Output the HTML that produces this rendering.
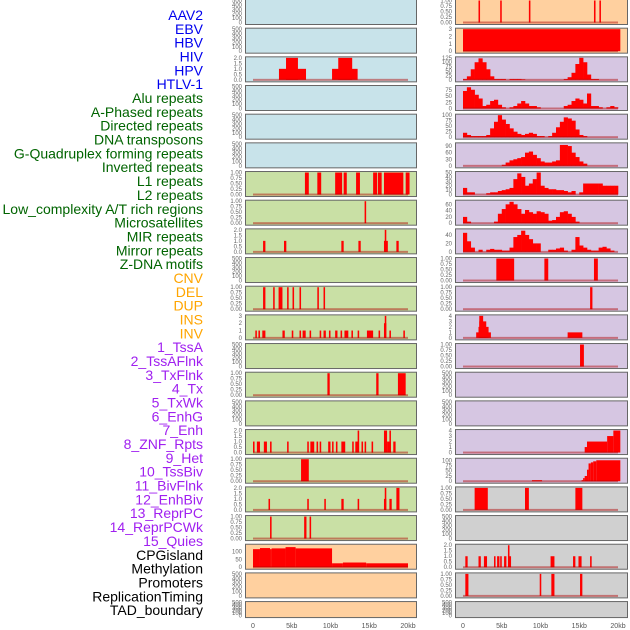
<!DOCTYPE html>
<html><head><meta charset="utf-8">
<style>
body{margin:0;background:#fff;}
svg{display:block;font-family:"Liberation Sans",sans-serif;}
</style></head>
<body>
<svg id="c" width="630" height="630" viewBox="0 0 630 630"></svg>
<script>
// ---- labels ----
const labelNames=["AAV2","EBV","HBV","HIV","HPV","HTLV-1","Alu repeats","A-Phased repeats","Directed repeats","DNA transposons","G-Quadruplex forming repeats","Inverted repeats","L1 repeats","L2 repeats","Low_complexity A/T rich regions","Microsatellites","MIR repeats","Mirror repeats","Z-DNA motifs","CNV","DEL","DUP","INS","INV","1_TssA","2_TssAFlnk","3_TxFlnk","4_Tx","5_TxWk","6_EnhG","7_Enh","8_ZNF_Rpts","9_Het","10_TssBiv","11_BivFlnk","12_EnhBiv","13_ReprPC","14_ReprPCWk","15_Quies","CPGisland","Methylation","Promoters","ReplicationTiming","TAD_boundary"];
const labelGroups=[6,13,5,15,5];
const groupColors=["#0000ee","#006400","#ffa500","#a020f0","#000000"];
const xTickLabels=["0","5kb","10kb","15kb","20kb"];
const xTickValues=[0,5,10,15,20];

// ---- segment data [startKb,endKb,value] ----
const L2=[[3.35,6.84,1],[4.26,5.8,2],[10.2,13.5,1],[11.0,12.8,2]];
const L6=[[6.7,7.2,1],[8.3,8.8,1],[10.6,11.5,1],[11.7,12.1,1],[13.3,13.8,1],[15.5,16.0,1],[16.1,16.6,1],[16.9,19.4,1],[19.7,20.2,1]];
const L7=[[14.4,14.6,1]];
const L8=[[1.3,1.6,1],[4.0,4.3,1],[11.4,11.7,1],[13.6,13.9,1],[16.9,17.4,1],[17.0,17.2,2],[18.5,18.8,1]];
const L10=[[1.3,1.6,1],[2.6,2.8,1],[3.3,3.8,1],[4.4,4.6,1],[5.1,5.3,1],[6.0,6.2,1],[8.3,8.5,1],[9.1,9.3,1]];
const L11=[[0.3,0.5,1],[0.7,0.9,1],[1.2,1.6,1],[3.8,4.1,1],[5.0,5.2,1],[6.0,6.2,1],[6.4,6.8,1],[7.3,7.5,1],[8.6,8.8,1],[9.1,9.4,1],[9.8,10.0,1],[10.6,10.9,1],[11.3,11.5,1],[11.8,12.3,1],[12.7,12.9,1],[13.5,13.7,1],[14.7,15.5,1],[16.2,16.4,1],[16.9,17.2,2],[17.0,17.2,3],[17.6,17.8,1],[19.4,19.6,1]];
const L13=[[9.6,9.9,1],[15.9,16.2,1],[18.7,19.7,1]];
const L15=[[0.0,0.2,1],[0.5,0.9,1],[1.4,1.8,1],[2.2,2.4,1],[4.4,4.6,1],[7.0,7.2,1],[7.4,7.9,1],[8.2,8.4,1],[8.6,8.8,1],[9.7,10.0,1],[10.2,10.4,1],[10.7,10.9,1],[11.4,11.9,1],[12.8,13.0,1],[13.2,13.6,1],[13.5,13.7,2],[14.0,14.2,1],[14.4,14.6,1],[15.3,15.5,1],[16.9,17.3,2],[17.3,17.8,1],[17.6,17.8,2],[18.1,18.4,1]];
const L16=[[6.2,7.2,1]];
const L17=[[2.0,2.2,1],[7.0,7.2,1],[9.2,9.4,1],[11.4,11.7,1],[13.5,13.7,1],[16.9,17.2,1],[17.0,17.2,2],[17.6,17.9,1],[18.5,18.9,2]];
const L18=[[2.2,2.4,1],[6.6,6.9,1],[7.3,7.5,1]];
const L19=[[0,0.9,115],[0.9,2.2,122],[2.2,2.4,115],[2.4,4.2,120],[4.2,5.5,128],[5.5,10.2,120],[10.2,11.6,25],[11.6,14.6,30],[14.6,20,25]];
const R0=[[2.0,2.2,1],[4.8,5.0,1],[8.5,8.7,1],[16.9,17.1,1],[17.6,17.8,1]];
const R1=[[0,20.3,3]];
const R9=[[4.3,6.6,1],[10.5,11.0,1],[16.9,17.4,1]];
const R10=[[16.4,16.7,1]];
const R11=[[1.7,3.6,1],[2.0,3.3,2],[2.1,3.0,3],[2.1,2.6,4],[13.5,15.4,1]];
const R12=[[15.1,15.6,1]];
const R15=[[15.7,16.0,1],[16.0,18.6,2],[18.6,19.4,3],[19.4,20.3,4]];
const R16=[[8.9,10.2,5],[15.3,15.5,5],[15.5,15.7,15],[15.7,16.0,25],[16.0,16.2,55],[16.2,16.5,85],[16.5,16.8,90],[16.8,17.2,95],[17.2,20.3,100]];
const R17=[[1.5,3.2,1],[8.0,8.5,1],[14.5,15.4,1]];
const R19=[[0.3,0.6,1],[2.0,2.3,1],[2.7,3.1,1],[4.0,4.2,1],[4.4,4.7,1],[4.8,5.0,1],[5.3,5.6,1],[5.8,6.0,2],[6.0,6.2,1],[11.3,11.8,1],[14.2,14.5,1],[14.9,15.3,1],[16.4,16.6,1]];
const R20=[[0.3,0.7,1],[9.9,10.1,1],[11.4,11.8,1],[15.1,15.4,1]];

// ---- binned density data (0.5kb bins from 0) ----
const R2=[5,20,60,100,122,100,60,20,5,5,5,0,5,5,5,3,0,0,0,0,0,0,0,0,0,0,5,15,40,90,125,100,30,5,5,0,0,0,0,0];
const R3=[70,85,75,55,40,10,15,30,35,15,5,0,5,10,20,30,20,10,10,5,0,0,0,0,0,0,10,15,30,40,35,20,60,10,10,5,0,5,10,5];
const R4=[20,10,5,5,5,5,10,40,70,100,80,60,40,25,15,10,15,20,15,5,5,0,5,20,45,70,90,85,75,35,10,5,0,0,0,0,0,0,0,0];
const R5=[0,0,0,0,0,0,0,0,0,0,5,15,25,30,35,40,60,65,50,35,20,15,15,20,25,95,95,90,60,40,20,10,0,0,0,0,0,0,0,0];
const R6=[15,5,5,0,0,0,3,5,5,8,10,12,15,35,48,40,20,25,35,50,20,15,12,12,10,10,8,5,8,0,5,25,25,25,25,25,20,20,20,20];
const R7=[20,5,0,0,0,0,0,0,5,30,45,60,68,60,45,30,42,35,30,38,35,30,8,10,20,35,38,30,20,5,0,0,0,0,0,0,0,0,0,0];
const R8=[45,25,10,0,5,0,5,7,5,5,3,3,10,35,40,50,40,30,20,20,0,0,5,5,8,10,3,0,5,35,15,10,5,3,3,10,12,8,3,0];

// ---- panel config ----
const bgBlue="#c8e3ea",bgGreen="#c9e0a5",bgPurple="#d6c6e2",bgOrange="#ffd09f",bgGray="#d0d0d0";
const T01=[0,0.25,0.5,0.75,1],T02=[0,0.5,1,1.5,2],T03=[0,1,2,3],T04=[0,1,2,3,4],TE=[0,100,200,300,400,500];
const tracks=[
 ['L',0,bgBlue,null,500,TE],['L',1,bgBlue,null,500,TE],['L',2,bgBlue,L2,2,T02],['L',3,bgBlue,null,500,TE],['L',4,bgBlue,null,500,TE],['L',5,bgBlue,null,500,TE],
 ['L',6,bgGreen,L6,1,T01],['L',7,bgGreen,L7,1,T01],['L',8,bgGreen,L8,2,T02],['L',9,bgGreen,null,500,TE],['L',10,bgGreen,L10,1,T01],
 ['L',11,bgGreen,L11,3,T03],['L',12,bgGreen,null,500,TE],['L',13,bgGreen,L13,1,T01],['L',14,bgGreen,null,500,TE],['L',15,bgGreen,L15,2,T02],
 ['L',16,bgGreen,L16,1,T01],['L',17,bgGreen,L17,2,T02],['L',18,bgGreen,L18,1,T01],['L',19,bgOrange,L19,140,[0,50,100]],['L',20,bgOrange,null,500,TE],['L',21,bgOrange,null,500,TE],
 ['R',0,bgOrange,R0,1,T01],['R',1,bgOrange,R1,3,T03],['R',2,bgPurple,R2,125,[0,25,50,75,100,125]],['R',3,bgPurple,R3,88,[0,25,50,75]],
 ['R',4,bgPurple,R4,100,[0,25,50,75,100]],['R',5,bgPurple,R5,100,[0,30,60,90]],['R',6,bgPurple,R6,50,[0,10,20,30,40,50]],['R',7,bgPurple,R7,70,[0,20,40,60]],
 ['R',8,bgPurple,R8,52,[0,20,40]],['R',9,bgPurple,R9,1,T01],['R',10,bgPurple,R10,1,T01],['R',11,bgPurple,R11,4,T04],['R',12,bgPurple,R12,1,T01],
 ['R',13,bgPurple,null,500,TE],['R',14,bgPurple,null,500,TE],['R',15,bgPurple,R15,4,T04],['R',16,bgPurple,R16,105,[0,25,50,75,100]],
 ['R',17,bgGray,R17,1,T01],['R',18,bgGray,null,500,TE],['R',19,bgGray,R19,2,T02],['R',20,bgGray,R20,1,T01],['R',21,bgGray,null,500,TE]
];
const binned=[R2,R3,R4,R5,R6,R7,R8];

const NS="http://www.w3.org/2000/svg";
const svg=document.getElementById('c');
function mk(tag,attrs,parent){const e=document.createElementNS(NS,tag);for(const k in attrs)e.setAttribute(k,attrs[k]);(parent||svg).appendChild(e);return e;}

// labels
let li=0;
labelGroups.forEach((n,g)=>{for(let j=0;j<n;j++){
  const t=mk('text',{x:203,y:15+13.84*li+5,'text-anchor':'end','font-size':14,fill:groupColors[g]});
  
  
  t.textContent=labelNames[li];li++;}});

const side={L:{x:245,w:171,x0:253,x20:408,tx:242},R:{x:455,w:172,x0:463,x20:618,tx:452}};
function xs(s,kb){const p=side[s];return p.x0+(p.x20-p.x0)*kb/20;}

tracks.forEach(tr=>{
  const [s,row,bg,data,ymax,ticks]=tr;const p=side[s];
  const top=row*28.67-1, h=(row===21?16:25);
  const g=mk('g',{});
  
  
  const r=mk('rect',{x:p.x+0.5,y:top+0.5,width:p.w,height:h,fill:bg,stroke:'#666','stroke-width':1},g);
  
  
  const yb=top+h-1.5, yt=top+1.5;
  const ys=v=>yb-(yb-yt)*v/ymax;
  ticks.forEach(tv=>{
    const lbl=(ticks===T01)?tv.toFixed(2):(ticks===T02?tv.toFixed(1):String(tv));
    const t=mk('text',{x:p.tx,y:ys(tv)+2,'text-anchor':'end','font-size':6,fill:'#666'},g);
    
    
    t.textContent=lbl;
  });
  if(!data)return;
  if(binned.includes(data)){
    data.forEach((v,i)=>{if(v<=0)return;
      const b=mk('rect',{x:xs(s,i*0.5),y:ys(v),width:xs(s,i*0.5+0.5)-xs(s,i*0.5)+0.3,height:yb-ys(v),fill:'#ff0000'},g);
      
      });
  } else {
    data.forEach(d=>{
      const b=mk('rect',{x:xs(s,d[0]),y:ys(d[2]),width:Math.max(1.4,xs(s,d[1])-xs(s,d[0])),height:yb-ys(d[2]),fill:'#ff0000'},g);
      
      });
  }
  const bl=mk('rect',{x:xs(s,0),y:yb-1,width:xs(s,20)-xs(s,0),height:2,fill:'#b00000','fill-opacity':0.45},g);
  
  
});

['L','R'].forEach(s=>{xTickValues.forEach((v,i)=>{
  const t=mk('text',{x:xs(s,v),y:628,'text-anchor':'middle','font-size':7,fill:'#555'});
  
  
  t.textContent=xTickLabels[i];});});
</script>
</body></html>
